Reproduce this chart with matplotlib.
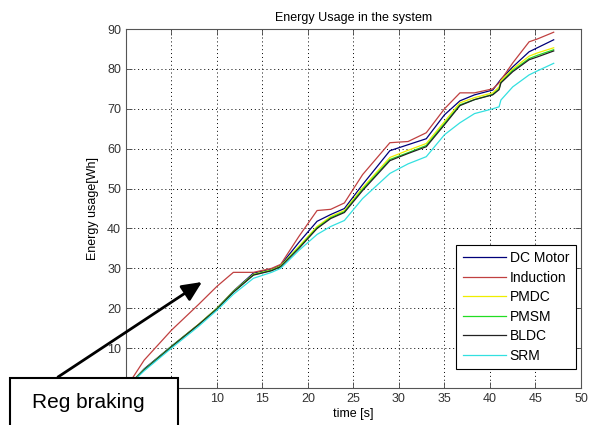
import numpy as np
import matplotlib.pyplot as plt
from matplotlib.patches import Rectangle

plt.rcParams['font.family'] = ['Liberation Sans', 'DejaVu Sans']

# ---- Data ----
t = [0, 2, 5, 8, 10, 11.8, 14, 16, 17, 19, 21, 22.5, 24, 26, 29, 31, 33, 35,
     36.7, 38.3, 40.3, 41.0, 41.2, 42.5, 44.3, 45.2, 47]

dc_motor = [0, 4.8, 10.5, 16, 20, 24.3, 28.8, 29.8, 30.8, 36.5, 41.8, 43.5, 45, 51,
            59.5, 61, 62.5, 68.5, 72, 73.5, 74.7, 76.8, 77.4, 80.5, 84.3, 85.3, 87.3]
induction = [0, 7, 14.5, 21, 25.5, 29, 29, 30, 31, 38, 44.5, 44.8, 46.4, 53.5,
             61.5, 61.8, 64, 70, 74, 74, 75, 76.5, 77.2, 81.5, 86.8, 87.5, 89.2]
pmdc = [0, 4.6, 10.4, 16, 20, 24.2, 28.5, 29.6, 30.6, 35.5, 40.5, 43, 44.5, 50.2,
        57.8, 59.6, 61.3, 66.8, 71.5, 72.8, 74, 75.5, 77, 80, 83.2, 84, 85.3]
pmsm = [0, 4.6, 10.4, 15.9, 19.9, 24.1, 28.4, 29.5, 30.5, 35.2, 40.2, 42.7, 44.2, 49.8,
        57.3, 59, 60.8, 66.3, 71, 72.3, 73.6, 75, 76.6, 79.6, 82.6, 83.4, 84.8]
bldc = [0, 4.5, 10.3, 15.9, 19.8, 24, 28.3, 29.4, 30.4, 35, 40, 42.5, 44, 49.5,
        57, 58.8, 60.5, 66, 70.8, 72.3, 73.5, 74.8, 76.5, 79.3, 82.3, 83, 84.5]
srm = [0, 4.3, 10, 15.5, 19.5, 23.5, 27.5, 29, 30, 34.5, 38.5, 40.5, 42, 47.5,
       53.8, 56.2, 58, 63.5, 66.5, 68.8, 70, 70.5, 72.2, 75.5, 78.5, 79.5, 81.4]

series = [("DC Motor", dc_motor, "#00007a"),
          ("Induction", induction, "#c04040"),
          ("PMDC", pmdc, "#eeee00"),
          ("PMSM", pmsm, "#22dd22"),
          ("BLDC", bldc, "#222222"),
          ("SRM", srm, "#33e0e0")]

x_ticks = list(range(0, 55, 5))
y_ticks = list(range(0, 100, 10))
# labels under the "Reg braking" box are not visible in the original
x_labels = ["", ""] + [str(v) for v in x_ticks[2:]]
y_labels = [""] + [str(v) for v in y_ticks[1:]]

# ---- Figure ----
fig = plt.figure(figsize=(5.92, 4.25), dpi=100)
ax = fig.add_axes([0.2128, 0.087, 0.7686, 0.8447])

for name, vals, col in series:
    ax.plot(t, vals, color=col, lw=0.9, label=name)

ax.set_xlim(0, 50)
ax.set_ylim(0, 90)
ax.set_xticks(x_ticks, x_labels)
ax.set_yticks(y_ticks, y_labels)
ax.tick_params(direction='in', top=True, right=True, length=4, width=0.6,
               labelsize=9, labelcolor='#333333', color='#444444')
ax.grid(True, color='black', linestyle=(0, (1, 3)), linewidth=0.7)
for s in ax.spines.values():
    s.set_color('#555555')
    s.set_linewidth(0.8)

ax.set_title("Energy Usage in the system", fontsize=9, pad=6)
ax.set_xlabel("time [s]", fontsize=9, labelpad=2)
ax.set_ylabel("Energy usage[Wh]", fontsize=9, labelpad=6)

leg = ax.legend(loc='lower right', bbox_to_anchor=(0.988, 0.053), fontsize=10,
                fancybox=False, framealpha=1, edgecolor='black',
                handlelength=3.1, handletextpad=0.3, borderpad=0.45,
                labelspacing=0.4, borderaxespad=0)
leg.get_frame().set_linewidth(0.8)

# "Reg braking" annotation box and arrow (figure pixels)
box = Rectangle((10, -10), 168, 57, transform=None, facecolor='white',
                edgecolor='black', linewidth=1.5, zorder=5, clip_on=False)
fig.add_artist(box)
fig.text(88 / 592, 23 / 425, "Reg braking", fontsize=15, ha='center',
         va='center', zorder=6)
ax.annotate("", xy=(202, 143), xycoords='figure pixels',
            xytext=(58, 48), textcoords='figure pixels',
            arrowprops=dict(arrowstyle='-|>,head_length=1.2,head_width=0.55',
                            color='black', lw=2, shrinkA=0, shrinkB=0),
            annotation_clip=False, zorder=6)

fig.savefig("out.png", dpi=100)
